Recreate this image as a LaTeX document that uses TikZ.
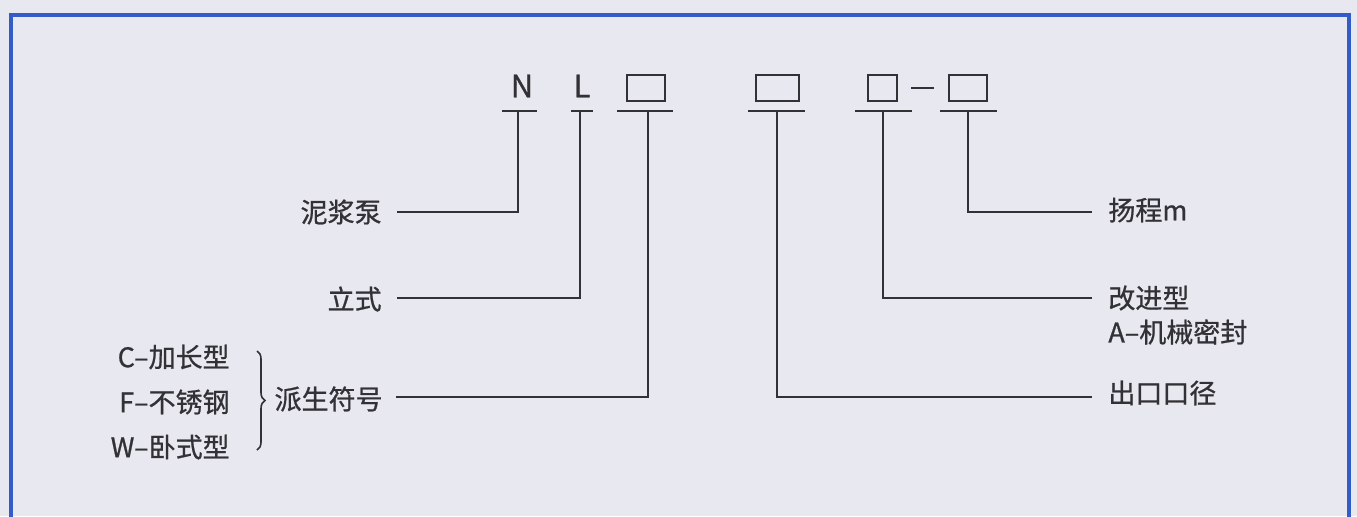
\documentclass[tikz,border=0pt]{standalone}
\usepackage{fontspec}
\setmainfont{Noto Sans CJK SC}[BoldFont={Noto Sans CJK SC},BoldFeatures={FakeBold=0.8}]
\usetikzlibrary{decorations.pathreplacing}
\definecolor{bgc}{RGB}{232,232,240}
\definecolor{framec}{RGB}{52,92,200}
\definecolor{ink}{RGB}{50,50,54}
\tikzset{
  code/.style={inner sep=0pt, text=ink, font=\fontsize{15.5}{15.5}\selectfont\bfseries},
  slot/.style={draw=ink, line width=1.1pt, inner sep=0pt, minimum height=13pt},
  uline/.style={draw=ink, line width=1.1pt},
  lead/.style={draw=ink, line width=1.1pt},
  lbl/.style={inner sep=0pt, text=ink, font=\fontsize{13.5}{13.5}\selectfont\bfseries},
  framed/.style={draw=framec, line width=2pt},
}
\begin{document}
\begin{tikzpicture}[x=0.5pt,y=-0.5pt]
\useasboundingbox (0,0) rectangle (1357,516);
\fill[bgc] (0,0) rectangle (1357,516);
\begin{scope}
\clip (0,0) rectangle (1357,516);
\draw[framed] (11,540) -- (11,15) -- (1349,15) -- (1349,540);
\end{scope}

% top row of the model code
\node[code] (N) at (522,86) {N};
\node[code] (L) at (582,86) {L};
\node[slot, minimum width=19pt] (b1) at (646,88) {};
\node[slot, minimum width=21.5pt] (b2) at (777.5,88) {};
\node[slot, minimum width=14.5pt] (b3) at (882.5,88) {};
\node[slot, minimum width=19pt] (b4) at (968,88) {};
\draw[uline, shorten <=6.5pt, shorten >=7pt] (b3.east) -- (b4.west);

% underlines and stem points
\coordinate (sN) at (518,111);
\coordinate (sL) at (580,111);
\coordinate (s1) at (648,111);
\coordinate (s2) at (777,111);
\coordinate (s3) at (883,111);
\coordinate (s4) at (968,111);
\draw[uline] (502,111) -- (537,111);
\draw[uline] (571,111) -- (593,111);
\draw[uline] (617,111) -- (673,111);
\draw[uline] (748,111) -- (805,111);
\draw[uline] (855,111) -- (912,111);
\draw[uline] (940,111) -- (997,111);

% left labels
\node[lbl, anchor=east] (pump) at (382,212) {泥浆泵};
\node[lbl, anchor=east] (vert) at (382,299) {立式};
\node[lbl, anchor=east] (deriv) at (383,399) {派生符号};
\node[lbl, anchor=east] (vC) at (230,357) {C–加长型};
\node[lbl, anchor=east] (vF) at (230,402) {F–不锈钢};
\node[lbl, anchor=east] (vW) at (230,447) {W–卧式型};
\coordinate (brT) at (257,351);
\coordinate (brB) at (257,450);
\draw[ink, line width=0.8pt, decorate, decoration={brace, amplitude=4pt}] (brT) -- (brB);

% right labels
\node[lbl, anchor=west] (head) at (1108,210) {扬程m};
\node[lbl, anchor=west] (impr) at (1108,298) {改进型};
\node[lbl, anchor=west] (seal) at (1108,332) {A–机械密封};
\node[lbl, anchor=west] (outl) at (1108,393) {出口口径};

% connectors
\draw[lead, shorten >=7.5pt] (sN) |- (pump.east);
\draw[lead] (sL) |- ([xshift=7.5pt]vert.east |- 0,298);
\draw[lead] (s1) |- ([xshift=6.5pt]deriv.east |- 0,397);
\draw[lead] (s4) |- ([xshift=-8pt]head.west |- 0,212);
\draw[lead] (s3) |- ([xshift=-8pt]impr.west |- 0,298);
\draw[lead] (s2) |- ([xshift=-8pt]outl.west |- 0,397);
\end{tikzpicture}
\end{document}
